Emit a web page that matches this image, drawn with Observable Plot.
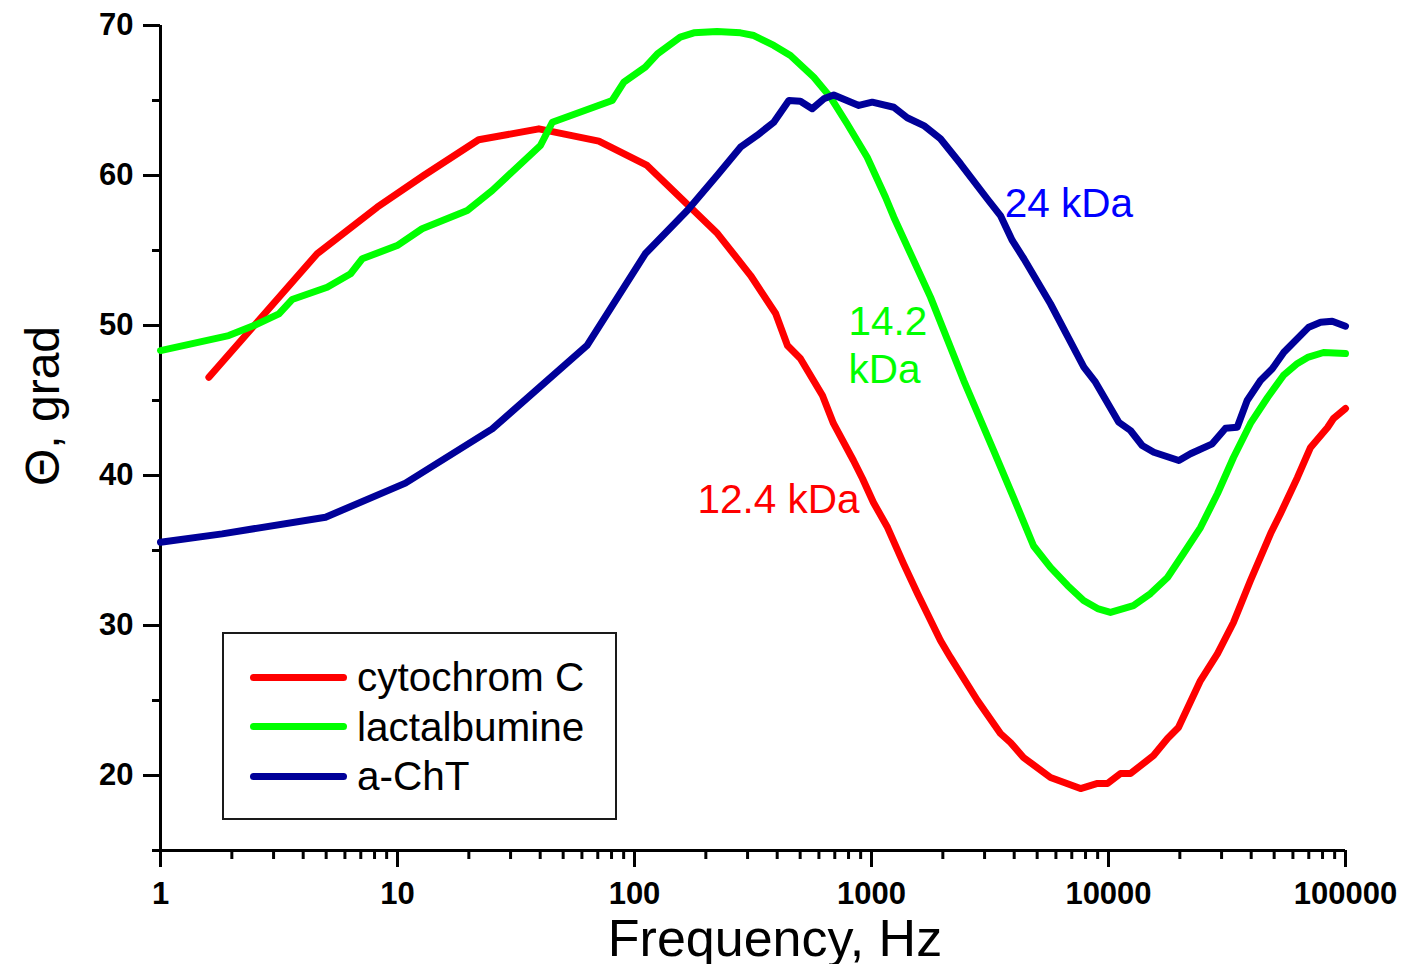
<!DOCTYPE html>
<html>
<head>
<meta charset="utf-8">
<script src="https://cdn.jsdelivr.net/npm/d3@7"></script>
<script src="https://cdn.jsdelivr.net/npm/@observablehq/plot@0.6"></script>
<style>
  html, body { margin: 0; padding: 0; background: #fff; }
  #wrap { position: relative; width: 1403px; height: 964px; font-family: "Liberation Sans", Arial, sans-serif; }
  #legend { position: absolute; left: 222px; top: 632px; width: 391px; height: 184px; border: 2px solid #1a1a1a; background: #fff; }
  .row { position: absolute; left: 26px; height: 40px; display: flex; align-items: center; }
  .swatch { width: 97px; height: 7px; border-radius: 4px; margin-right: 10px; }
  .lab { font-size: 40.5px; color: #000; line-height: 40px; }
</style>
</head>
<body>
<div id="wrap"></div>
<script>
// ---- data ----
const seriesNames = ["cytochrom C", "lactalbumine", "a-ChT"];
const seriesColors = ["#ff0000", "#00ff00", "#000099"];

const cytoF = [1.6, 4.58, 8.21, 12.9, 22.0, 39.5, 70.7, 113, 224, 309, 394, 442, 501, 621, 691, 839, 916, 1019, 1169, 1365, 1563, 1954, 2154, 2800, 3500, 3857, 4378, 5692, 7620, 8990, 9900, 11240, 12380, 15490, 17740, 19730, 24440, 28840, 33670, 39720, 48300, 53200, 62700, 71200, 84000, 89000, 100000];
const cytoT = [46.55, 54.78, 57.89, 60.0, 62.38, 63.11, 62.29, 60.67, 56.13, 53.33, 50.8, 48.67, 47.8, 45.33, 43.47, 41.0, 39.8, 38.2, 36.53, 34.13, 32.13, 29.0, 27.87, 25.0, 22.8, 22.2, 21.2, 19.87, 19.13, 19.47, 19.47, 20.13, 20.13, 21.33, 22.47, 23.2, 26.33, 28.13, 30.2, 33.0, 36.13, 37.47, 39.87, 41.87, 43.2, 43.8, 44.47];

const lactF = [1, 1.94, 2.48, 3.16, 3.59, 5.05, 6.34, 7.1, 9.97, 12.7, 19.7, 25.1, 40.1, 45, 80.5, 90.2, 111, 125, 156, 178, 223, 280, 319, 387, 455, 571, 671, 789, 959, 1146, 1242, 1774, 2450, 3273, 3975, 4830, 5690, 6716, 7850, 8990, 10190, 12740, 15040, 17740, 20720, 24440, 28840, 33670, 39720, 46880, 54700, 62700, 69200, 80800, 100000];
const lactT = [48.33, 49.33, 50.0, 50.78, 51.73, 52.55, 53.45, 54.45, 55.33, 56.45, 57.67, 59.0, 62.0, 63.55, 65.0, 66.22, 67.22, 68.11, 69.22, 69.51, 69.6, 69.51, 69.33, 68.67, 68.0, 66.55, 65.22, 63.45, 61.22, 58.55, 57.22, 51.89, 46.33, 41.67, 38.53, 35.3, 33.87, 32.67, 31.67, 31.13, 30.87, 31.33, 32.13, 33.2, 34.8, 36.53, 38.8, 41.2, 43.47, 45.2, 46.67, 47.47, 47.87, 48.2, 48.13];

const achtF = [1, 1.82, 4.97, 10.8, 25.1, 63.1, 111, 167, 223, 280, 329, 387, 448, 501, 562, 629, 693, 884, 1007, 1242, 1415, 1662, 1954, 2375, 3077, 3500, 3925, 4395, 5690, 7870, 8810, 11050, 12380, 13870, 15530, 19810, 22180, 27400, 31180, 34910, 38460, 43780, 49090, 54950, 69980, 78500, 87900, 100000];
const achtT = [35.55, 36.11, 37.22, 39.49, 43.11, 48.67, 54.78, 57.67, 60.0, 61.89, 62.67, 63.55, 65.0, 64.95, 64.45, 65.11, 65.37, 64.67, 64.89, 64.55, 63.85, 63.33, 62.45, 60.78, 58.45, 57.33, 55.67, 54.45, 51.45, 47.22, 46.22, 43.55, 43.0, 42.0, 41.55, 41.0, 41.45, 42.11, 43.15, 43.22, 45.0, 46.33, 47.11, 48.22, 49.89, 50.22, 50.29, 49.95];

const yMajor = [20, 30, 40, 50, 60, 70];
const yMinor = [15, 25, 35, 45, 55, 65];
const xMajor = [1, 10, 100, 1000, 10000, 100000];
const xMinor = [2,3,4,5,6,7,8,9,20,30,40,50,60,70,80,90,200,300,400,500,600,700,800,900,2000,3000,4000,5000,6000,7000,8000,9000,20000,30000,40000,50000,60000,70000,80000,90000];

const annText = ["24 kDa", "14.2\nkDa", "12.4 kDa"];
const annF = [3650, 800, 184.5];
const annT = [58.3, 48.8, 38.55];
const annColors = ["#0000ff", "#00ff00", "#ff0000"];

const xTitle = "Frequency, Hz";
const yTitle = "Θ, grad";

// ---- build table ----
const rows = [];
[[cytoF, cytoT], [lactF, lactT], [achtF, achtT]].forEach(([F, T], i) => {
  F.forEach((f, j) => rows.push({series: seriesNames[i], f, t: T[j]}));
});
const ann = annText.map((text, i) => ({text, f: annF[i], t: annT[i], color: annColors[i]}));

const font = "'Liberation Sans', Arial, sans-serif";

const chart = Plot.plot({
  width: 1403,
  height: 964,
  marginLeft: 160,
  marginRight: 58,
  marginTop: 25,
  marginBottom: 114,
  x: {type: "log", domain: [1, 100000]},
  y: {domain: [15, 70]},
  color: {domain: seriesNames, range: seriesColors},
  style: {fontFamily: font, background: "white", color: "black", overflow: "visible"},
  marks: [
    Plot.axisY({ticks: yMajor, tickSize: 17, tickPadding: 10, strokeWidth: 3, fontSize: 31, fontWeight: "bold", label: null, tickFormat: d => String(d)}),
    Plot.axisY({ticks: yMinor, tickSize: 8, strokeWidth: 3, tickFormat: () => "", label: null}),
    Plot.axisX({ticks: xMajor, tickSize: 17, tickPadding: 14, strokeWidth: 3, fontSize: 31, fontWeight: "bold", label: null, tickFormat: d => String(d)}),
    Plot.axisX({ticks: xMinor, tickSize: 9, strokeWidth: 3, tickFormat: () => "", label: null}),
    Plot.ruleX([1], {strokeWidth: 3}),
    Plot.ruleY([15], {strokeWidth: 3}),
    Plot.line(rows, {x: "f", y: "t", z: "series", stroke: "series", strokeWidth: 7, strokeLinecap: "round", strokeLinejoin: "round"}),
    Plot.text(ann, {x: "f", y: "t", text: "text", fill: "color", textAnchor: "start", lineAnchor: "middle", fontSize: 40.5, lineHeight: 1.2}),
    Plot.text([xTitle], {text: d => d, frameAnchor: "bottom", textAnchor: "middle", lineAnchor: "bottom", dx: 22, dy: 105, fontSize: 52}),
    Plot.text([yTitle], {text: d => d, frameAnchor: "left", textAnchor: "middle", lineAnchor: "bottom", rotate: -90, dx: -102, dy: -32, fontSize: 48})
  ]
});

const wrap = document.getElementById("wrap");
wrap.appendChild(chart);

// legend overlay
const legend = document.createElement("div");
legend.id = "legend";
seriesNames.forEach((name, i) => {
  const row = document.createElement("div");
  row.className = "row";
  row.style.top = (23 + i * 49.5) + "px";
  const sw = document.createElement("div");
  sw.className = "swatch";
  sw.style.background = seriesColors[i];
  const lab = document.createElement("span");
  lab.className = "lab";
  lab.textContent = name;
  row.appendChild(sw);
  row.appendChild(lab);
  legend.appendChild(row);
});
wrap.appendChild(legend);
</script>
</body>
</html>
